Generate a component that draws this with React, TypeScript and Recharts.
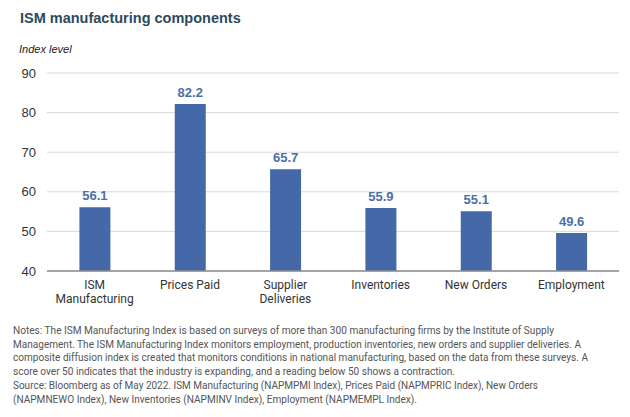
import React from 'react';
import { BarChart, Bar, XAxis, YAxis, CartesianGrid, LabelList } from 'recharts';

// ISM components, May 2022
const categories = ['ISM\nManufacturing', 'Prices Paid', 'Supplier\nDeliveries', 'Inventories', 'New Orders', 'Employment'];
const values = [56.1, 82.2, 65.7, 55.9, 55.1, 49.6];
const yTicks = [40, 50, 60, 70, 80, 90];

// footnote lines, wrapped as in the original
const noteLines = [
  'Notes: The ISM Manufacturing Index is based on surveys of more than 300 manufacturing firms by the Institute of Supply',
  'Management. The ISM Manufacturing Index monitors employment, production inventories, new orders and supplier deliveries. A',
  'composite diffusion index is created that monitors conditions in national manufacturing, based on the data from these surveys. A',
  'score over 50 indicates that the industry is expanding, and a reading below 50 shows a contraction.',
  'Source: Bloomberg as of May 2022. ISM Manufacturing (NAPMPMI Index), Prices Paid (NAPMPRIC Index), New Orders',
  '(NAPMNEWO Index), New Inventories (NAPMINV Index), Employment (NAPMEMPL Index).',
];
const noteWidths = [541, 568, 575, 442, 525, 404];

const data = categories.map((name, i) => ({ name, value: values[i] }));

const BAR = '#4468a8';
const LABEL_FONT = 'Roboto, "Liberation Sans", sans-serif';
const ARIAL = '"Liberation Sans", Arial, sans-serif';

const CategoryTick = (props: any) => {
  const { x, y, payload } = props;
  const lines = String(payload.value).split('\n');
  return (
    <text x={x} y={y + 10} textAnchor="middle" fill="#333" fontSize={12} fontFamily={LABEL_FONT}>
      {lines.map((l, i) => (
        <tspan key={i} x={x} dy={i === 0 ? 0 : 14}>{l}</tspan>
      ))}
    </text>
  );
};

const App: React.FC = () => {
  return (
    <div style={{ position: 'absolute', left: 0, top: 0, width: 630, height: 417, background: '#fff', overflow: 'hidden' }}>
      <div style={{ position: 'absolute', left: 20, top: 10, fontFamily: ARIAL, fontWeight: 700, fontSize: 14.5, color: '#2e4a5e' }}>
        ISM manufacturing components
      </div>
      <div style={{ position: 'absolute', left: 19, top: 43, fontFamily: ARIAL, fontStyle: 'italic', fontSize: 11, color: '#222' }}>
        Index level
      </div>
      <div style={{ position: 'absolute', left: 0, top: 0 }}>
        <BarChart width={630} height={312} data={data} margin={{ top: 73, right: 11, bottom: 11, left: 17 }} barCategoryGap="34%">
          <CartesianGrid vertical={false} stroke="#d9d9d9" />
          <XAxis dataKey="name" tickLine={false} axisLine={{ stroke: '#8c8c8c', strokeWidth: 1.5 }} tick={<CategoryTick />} interval={0} />
          <YAxis
            width={30}
            domain={[40, 90]}
            ticks={yTicks}
            axisLine={false}
            tickLine={false}
            tickMargin={5}
            tick={{ fill: '#333', fontSize: 13, fontFamily: ARIAL }}
          />
          <Bar dataKey="value" fill={BAR} isAnimationActive={false}>
            <LabelList dataKey="value" position="top" offset={7} fill="#4a6fa8" fontSize={13} fontWeight={700} fontFamily={ARIAL} formatter={(v: any) => Number(v).toFixed(1)} />
          </Bar>
        </BarChart>
      </div>
      <svg style={{ position: 'absolute', left: 0, top: 315 }} width={630} height={102}>
        {noteLines.map((line, i) => (
          <text
            key={i}
            x={13}
            y={19 + i * 13.7}
            fontSize={10.3}
            fontFamily={LABEL_FONT}
            fill="#555"
            textLength={noteWidths[i]}
            lengthAdjust="spacingAndGlyphs"
          >
            {line}
          </text>
        ))}
      </svg>
    </div>
  );
};

export default App;
